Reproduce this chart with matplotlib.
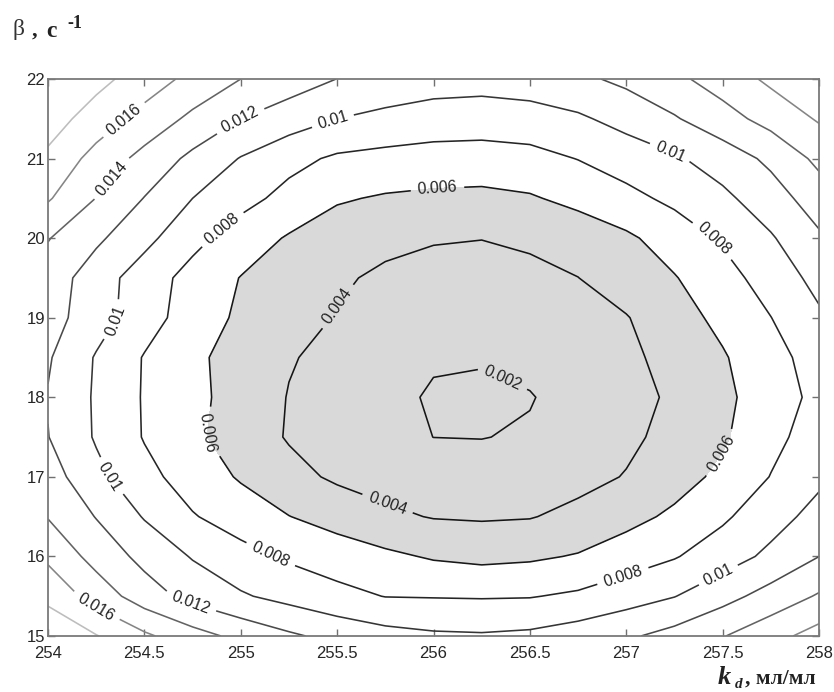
import numpy as np
import matplotlib
matplotlib.use("Agg")
import matplotlib.pyplot as plt

# ---- data ----
kd = [254.0, 254.25, 254.5, 254.75, 255.0, 255.25, 255.5, 255.75, 256.0,
      256.25, 256.5, 256.75, 257.0, 257.25, 257.5, 257.75, 258.0]
beta = [15.0, 15.5, 16.0, 16.5, 17.0, 17.5, 18.0, 18.5, 19.0, 19.5,
        20.0, 20.5, 21.0, 21.5, 22.0]

z_15_0 = [0.0195, 0.0181, 0.01636, 0.01479, 0.01345, 0.01232, 0.0114, 0.0107, 0.0103, 0.0102, 0.0104, 0.0110, 0.0117, 0.01268, 0.0139, 0.01531, 0.0168]
z_15_5 = [0.0175, 0.01517, 0.01295, 0.01133, 0.01022, 0.00937, 0.00857, 0.00795, 0.0079, 0.00785, 0.0079, 0.00832, 0.00913, 0.00994, 0.01131, 0.01276, 0.0142]
z_16_0 = [0.0156, 0.01328, 0.01142, 0.00986, 0.00867, 0.00771, 0.00705, 0.0064, 0.0058, 0.0055, 0.0057, 0.00614, 0.0070, 0.00786, 0.00908, 0.01044, 0.01199]
z_16_5 = [0.0139, 0.01192, 0.00986, 0.00814, 0.00706, 0.00604, 0.0052, 0.00437, 0.0039, 0.0038, 0.0039, 0.00452, 0.00538, 0.00637, 0.00768, 0.00923, 0.01066]
z_17_0 = [0.0129, 0.01055, 0.00859, 0.0071, 0.0058, 0.00459, 0.0037, 0.0033, 0.0030, 0.0029, 0.0030, 0.0034, 0.0041, 0.0052, 0.00645, 0.00806, 0.0096]
z_17_5 = [0.01205, 0.0098, 0.00788, 0.00642, 0.00503, 0.00385, 0.00323, 0.0026, 0.00199, 0.00195, 0.0022, 0.0029, 0.0036, 0.00459, 0.00573, 0.00746, 0.0089]
z_18_0 = [0.0119, 0.00976, 0.00784, 0.00653, 0.00519, 0.00392, 0.00321, 0.00251, 0.0018, 0.0015, 0.0019, 0.00271, 0.00343, 0.00426, 0.00554, 0.00707, 0.0085]
z_18_5 = [0.0122, 0.00984, 0.00788, 0.00641, 0.00522, 0.00413, 0.0035, 0.0029, 0.0022, 0.0022, 0.0025, 0.0030, 0.0036, 0.00462, 0.00581, 0.00735, 0.0088]
z_19_0 = [0.0128, 0.01089, 0.00885, 0.00707, 0.00565, 0.00469, 0.0039, 0.0033, 0.0029, 0.0028, 0.0029, 0.0034, 0.0039, 0.00518, 0.00651, 0.00797, 0.0097]
z_19_5 = [0.0131, 0.01096, 0.0090, 0.00731, 0.00594, 0.00508, 0.00424, 0.0037, 0.0035, 0.0034, 0.0036, 0.00398, 0.00494, 0.00589, 0.00726, 0.00886, 0.0106]
z_20_0 = [0.0141, 0.01237, 0.01057, 0.00858, 0.00705, 0.00581, 0.0050, 0.00443, 0.00411, 0.00403, 0.00426, 0.0048, 0.00566, 0.0069, 0.00825, 0.0098, 0.0117]
z_20_5 = [0.0162, 0.01396, 0.01194, 0.0100, 0.00865, 0.0074, 0.0062, 0.0058, 0.0056, 0.0055, 0.0058, 0.00655, 0.00745, 0.00844, 0.00956, 0.0111, 0.0130]
z_21_0 = [0.0176, 0.01528, 0.01338, 0.01153, 0.0099, 0.00858, 0.0077, 0.0074, 0.0072, 0.00718, 0.0074, 0.00805, 0.0089, 0.00973, 0.01092, 0.01243, 0.01447]
z_21_5 = [0.0189, 0.01711, 0.01529, 0.01356, 0.0120, 0.0110, 0.0100, 0.0095, 0.0091, 0.00895, 0.0091, 0.0097, 0.01068, 0.01182, 0.01324, 0.0147, 0.0162]
z_22_0 = [0.0199, 0.0186, 0.01707, 0.01543, 0.0140, 0.01296, 0.01198, 0.0113, 0.0109, 0.0108, 0.0111, 0.0116, 0.01244, 0.01356, 0.01488, 0.0164, 0.0175]

levels = [0.002, 0.004, 0.006, 0.008, 0.010, 0.012, 0.014, 0.016, 0.018]
fill_limits = [0.0, 0.006]
x_ticks = [254, 254.5, 255, 255.5, 256, 256.5, 257, 257.5, 258]
x_tick_labels = ["254", "254.5", "255", "255.5", "256", "256.5", "257", "257.5", "258"]
y_ticks = [15, 16, 17, 18, 19, 20, 21, 22]
y_tick_labels = ["15", "16", "17", "18", "19", "20", "21", "22"]

# ---- styling / layout ----
line_colors = ["#151515", "#151515", "#181818", "#252525", "#353535",
               "#4a4a4a", "#636363", "#858585", "#bdbdbd"]
label_positions = [
    (254.39, 21.50), (254.25, 15.37),                 # 0.016
    (254.34, 20.73),                                  # 0.014
    (255.00, 21.47), (254.74, 15.42),                 # 0.012
    (255.48, 21.46), (257.23, 21.10), (254.36, 18.95),
    (254.30, 16.96), (257.50, 15.66),                 # 0.01
    (254.86, 20.25), (257.47, 20.02), (255.15, 16.00),
    (257.00, 15.62),                                  # 0.008
    (256.02, 20.66), (254.82, 17.55), (257.52, 17.25),  # 0.006
    (255.40, 19.30), (255.74, 16.52),                 # 0.004
    (256.37, 18.30),                                  # 0.002
]

Z = np.array([z_15_0, z_15_5, z_16_0, z_16_5, z_17_0, z_17_5, z_18_0, z_18_5,
              z_19_0, z_19_5, z_20_0, z_20_5, z_21_0, z_21_5, z_22_0])

W, H = 834, 692
fig = plt.figure(figsize=(W / 100, H / 100), dpi=100)
fig.patch.set_facecolor("white")
ax = fig.add_axes([48 / W, 1 - 636 / H, (819 - 48) / W, (636 - 79) / H])

ax.contourf(kd, beta, Z, levels=fill_limits, colors=["#d9d9d9"])
cs = ax.contour(kd, beta, Z, levels=levels, colors=line_colors, linewidths=1.15)
labels = ax.clabel(cs, inline=True, inline_spacing=4, fontsize=11.5,
                   fmt=lambda v: f"{v:g}", manual=label_positions)
for t in labels:
    t.set_family("Liberation Sans")
    t.set_color("#222222")

ax.set_xlim(254, 258)
ax.set_ylim(15, 22)
ax.set_xticks(x_ticks)
ax.set_xticklabels(x_tick_labels)
ax.set_yticks(y_ticks)
ax.set_yticklabels(y_tick_labels)
ax.tick_params(direction="in", top=True, right=True, length=5, width=1.0,
               color="#707070", labelsize=12, labelcolor="#262626", pad=7)
ax.tick_params(axis="y", pad=2)
for lab in ax.get_xticklabels() + ax.get_yticklabels():
    lab.set_family("Liberation Sans")
for sp in ax.spines.values():
    sp.set_color("#7a7a7a")
    sp.set_linewidth(1.3)

serif = "Liberation Serif"
def ftxt(px, py, s, **kw):
    fig.text(px / W, 1 - py / H, s, va="baseline", ha="left", family=serif, **kw)

# y-axis label: β , с^-1
ftxt(12, 35, "β", fontsize=17, color="#333333")
ftxt(32, 36, ",", fontsize=16, weight="bold", color="#222222")
ftxt(46, 37, "с", fontsize=17, weight="bold", color="#222222")
ftxt(67, 28, "-1", fontsize=13, weight="bold", color="#222222")

# x-axis label: k_d , мл/мл
ftxt(718, 684, "k", fontsize=19, weight="bold", style="italic", color="#222222")
ftxt(735, 688, "d", fontsize=11, weight="bold", style="italic", color="#222222")
ftxt(745, 684, ", мл/мл", fontsize=15.5, weight="bold", color="#222222")

fig.savefig("out.png", dpi=100, facecolor="white")
